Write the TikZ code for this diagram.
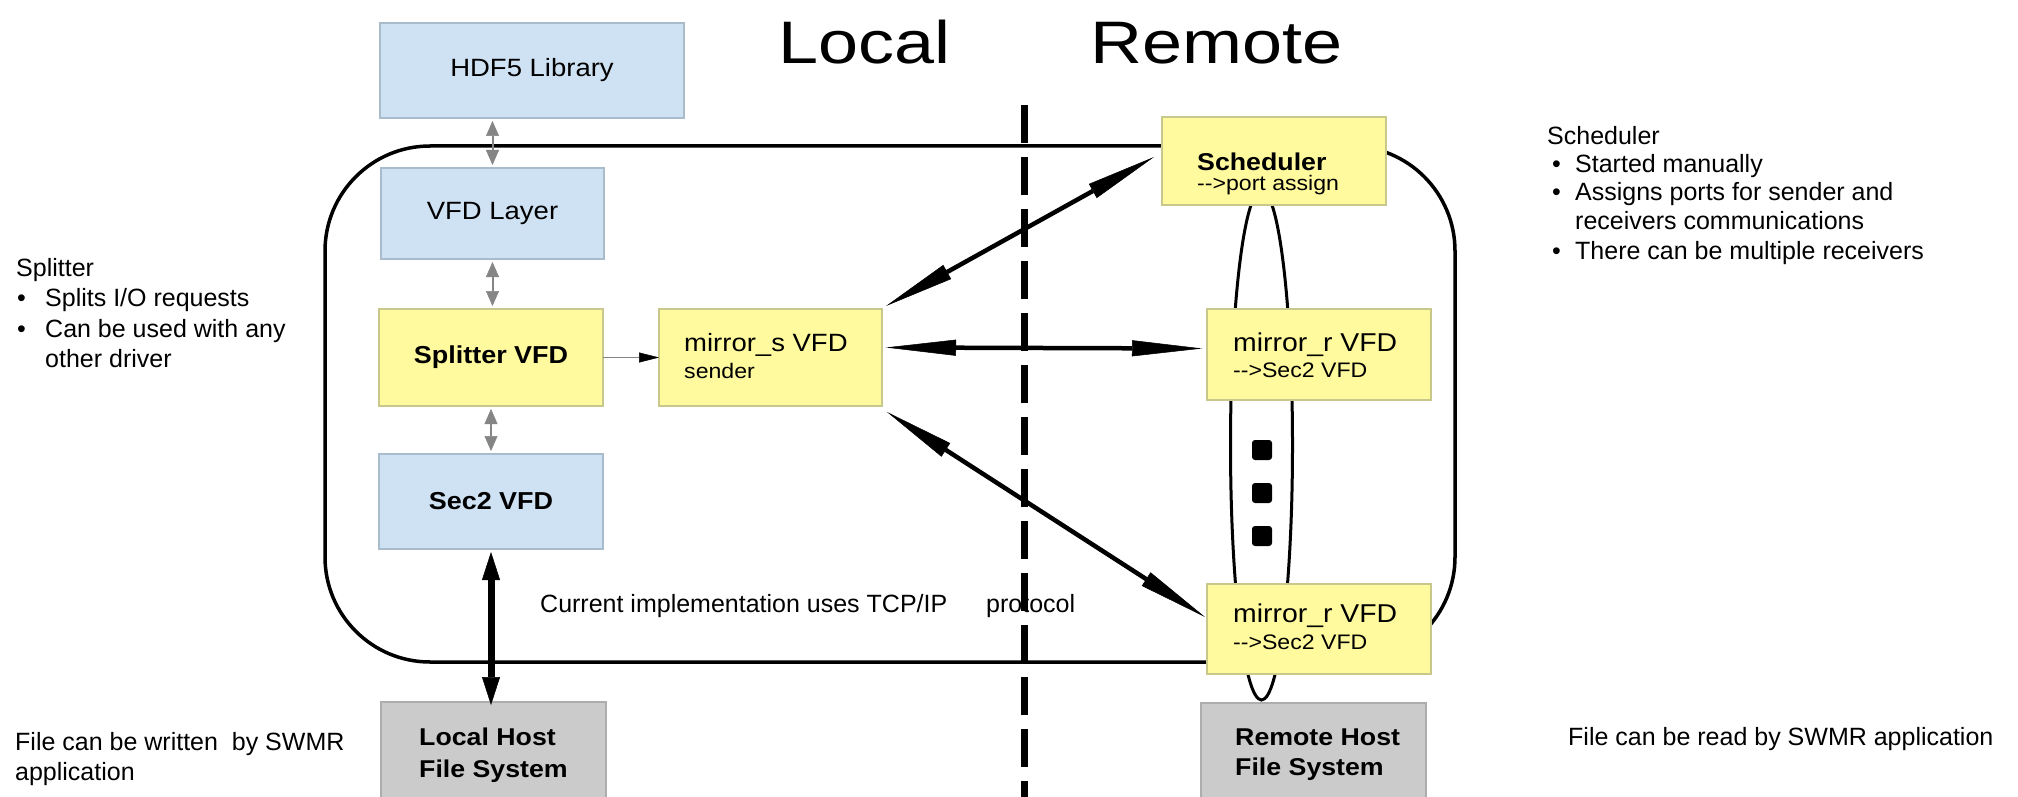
\documentclass[tikz,border=0pt]{standalone}
\usepackage{fontspec}
\setmainfont{Liberation Sans}
\newfontfamily\dfont[FakeStretch=1.1]{Liberation Sans}
\newfontfamily\tfont[FakeStretch=1.2]{Liberation Sans}
\usetikzlibrary{arrows.meta}
\definecolor{bluefill}{HTML}{CFE2F3}
\definecolor{blueline}{HTML}{A9BCCB}
\definecolor{yelfill}{HTML}{FFFA9E}
\definecolor{yelline}{HTML}{C8C88A}
\definecolor{grayfill}{HTML}{CBCBCB}
\definecolor{grayline}{HTML}{ADADAD}
\definecolor{arrgray}{HTML}{858585}
\begin{document}
\begin{tikzpicture}[x=1pt,y=-1pt,
  box/.style={draw, line width=1.5pt, anchor=north west, inner sep=0pt, outer sep=0pt},
  bluebox/.style={box, fill=bluefill, draw=blueline},
  yelbox/.style={box, fill=yelfill, draw=yelline},
  graybox/.style={box, fill=grayfill, draw=grayline},
  dlab/.style={font=\dfont\fontsize{25}{30}\selectfont},
  dlabb/.style={font=\dfont\bfseries\fontsize{24.5}{30}\selectfont},
  tline/.style={inner sep=0pt, anchor=base west},
  dmain/.style={tline, font=\dfont\fontsize{25}{30}\selectfont},
  dbold/.style={tline, font=\dfont\bfseries\fontsize{24.3}{30}\selectfont},
  dsub/.style={tline, font=\dfont\fontsize{21}{25}\selectfont},
  note/.style={tline, font=\fontsize{25}{30}\selectfont},
  ttl/.style={tline, font=\tfont\fontsize{60}{70}\selectfont},
  grayarr/.style={draw=arrgray, line width=2pt,
     {Triangle[length=15pt,width=13pt,line width=0.5pt]}-{Triangle[length=15pt,width=13pt,line width=0.5pt]},
     shorten <=3pt, shorten >=3pt},
  thinarr/.style={draw=arrgray, line width=1.5pt,
     -{Triangle[length=20pt,width=10pt,line width=0.5pt,color=black]}},
  bigarr/.style={line width=7pt,
     {Triangle[length=28pt,width=18pt,line width=0.5pt]}-{Triangle[length=28pt,width=18pt,line width=0.5pt]}},
  netarr/.style={line width=4.5pt,
     {Triangle[length=70pt,width=16pt,line width=0.5pt]}-{Triangle[length=70pt,width=16pt,line width=0.5pt]}},
  dotsq/.style={fill=black, minimum size=20pt, inner sep=0pt, rounded corners=3pt}
]
\useasboundingbox[fill=white] (0,0) rectangle (2018,797);

% frame and ellipse (behind boxes)
\draw[line width=3.5pt, rounded corners=105pt] (325,146) rectangle (1455,662);
\draw[line width=3pt] (1261.5,445) ellipse [x radius=31pt, y radius=255pt];

% local boxes
\node[bluebox, minimum width=304pt, minimum height=95pt, dlab] (hdf) at (380,23) {HDF5 Library};
\node[bluebox, minimum width=223pt, minimum height=91pt, dlab] (vfd) at (381,168) {VFD Layer};
\node[yelbox, minimum width=224pt, minimum height=97pt, dlabb] (spl) at (379,309) {Splitter VFD};
\node[bluebox, minimum width=224pt, minimum height=95pt, dlabb] (sec) at (379,454) {Sec2 VFD};
\node[graybox, minimum width=225pt, minimum height=100pt] (lhfs) at (381,702) {};
\node[yelbox, minimum width=223pt, minimum height=97pt] (ms) at (659,309) {};

% remote boxes
\node[yelbox, minimum width=224pt, minimum height=88pt] (sch) at (1162,117) {};
\node[yelbox, minimum width=224pt, minimum height=91pt] (mr1) at (1207,309) {};
\node[yelbox, minimum width=224pt, minimum height=90pt] (mr2) at (1207,584) {};
\node[graybox, minimum width=225pt, minimum height=100pt] (rhfs) at (1201,703) {};

% dots
\node[dotsq] (dot1) at (1262,450) {};
\node[dotsq] (dot2) at (1262,493) {};
\node[dotsq] (dot3) at (1262,536) {};

% box texts
\node[dbold] (lh1) at (419,745) {Local Host};
\node[dbold] (lh2) at (419,777) {File System};
\node[dmain] (ms1) at (684,351) {mirror\_s VFD};
\node[dsub] (ms2) at (684,378) {sender};
\node[dbold] (sc1) at (1197,170) {Scheduler};
\node[dsub] (sc2) at (1197,190) {-{}->port assign};
\node[dmain, font=\dfont\fontsize{25.8}{30}\selectfont] (ra1) at (1233,351) {mirror\_r VFD};
\node[dsub] (ra2) at (1233,377) {-{}->Sec2 VFD};
\node[dmain, font=\dfont\fontsize{25.8}{30}\selectfont] (rb1) at (1233,622) {mirror\_r VFD};
\node[dsub] (rb2) at (1233,649) {-{}->Sec2 VFD};
\node[dbold] (rh1) at (1235,745) {Remote Host};
\node[dbold] (rh2) at (1235,775) {File System};

% connectors
\draw[grayarr] (vfd.north |- hdf.south) -- (vfd.north);
\draw[grayarr] (vfd.south) -- (vfd.south |- spl.north);
\draw[grayarr] (spl.south) -- (spl.south |- sec.north);
\draw[thinarr] (spl.east) -- (ms.west);
\draw[bigarr] ([yshift=-3pt]sec.south) -- ([yshift=-3pt]sec.south |- lhfs.north);
\draw[netarr] ([shift={(4,-3)}]ms.north east) -- ([shift={(-8,-4)}]sch.west);
\draw[netarr] ([shift={(4,-10)}]ms.east) -- ([shift={(-5,-6)}]mr1.west);
\draw[netarr] ([shift={(5,6)}]ms.south east) -- ([shift={(-2,-12)}]mr2.west);

% dashed divider
\coordinate (dtop) at (1024,105);
\coordinate (dbot) at (1024,800);
\draw[line width=7pt, dash pattern=on 38pt off 14pt] (dtop) -- (dbot);

% titles
\node[ttl] (tloc) at (778,64) {Local};
\node[ttl] (trem) at (1090,64) {Remote};

% protocol note
\node[note] (cur) at (540,612) {Current implementation uses TCP/IP};
\node[note] (prot) at (986,612) {protocol};

% left notes
\node[note] (n0) at (16,276) {Splitter};
\node[note] (nb1) at (17,306) {•};
\node[note] (n1) at (45,306) {Splits I/O requests};
\node[note] (nb2) at (17,337) {•};
\node[note] (n2) at (45,337) {Can be used with any};
\node[note] (n3) at (45,367) {other driver};
\node[note] (w1) at (15,750) {File can be written\ \ by SWMR};
\node[note] (w2) at (15,780) {application};

% right notes
\node[note] (m0) at (1547,144) {Scheduler};
\node[note] (mb1) at (1552,172) {•};
\node[note] (m1) at (1575,172) {Started manually};
\node[note] (mb2) at (1552,200) {•};
\node[note] (m2) at (1575,200) {Assigns ports for sender and};
\node[note] (m3) at (1575,229) {receivers communications};
\node[note] (mb3) at (1552,259) {•};
\node[note] (m4) at (1575,259) {There can be multiple receivers};
\node[note] (rd) at (1568,745) {File can be read by SWMR application};
\end{tikzpicture}
\end{document}
